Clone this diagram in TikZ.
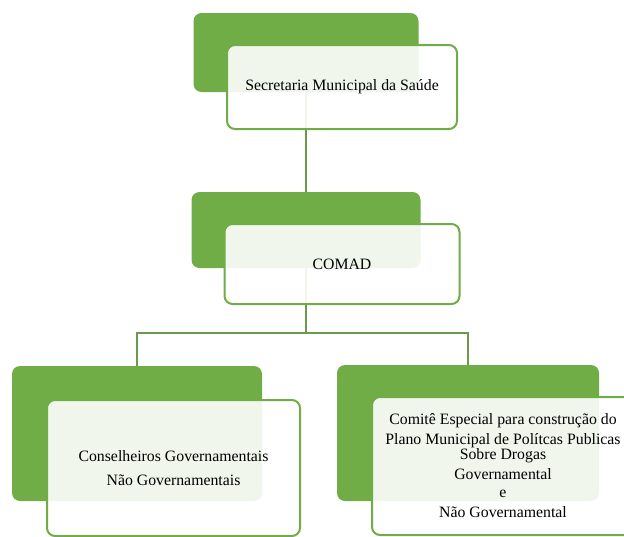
\documentclass[tikz,border=0pt]{standalone}
\usepackage{fontspec}
\setmainfont{Liberation Serif}
\definecolor{boxgreen}{HTML}{70AD47}
\definecolor{linegreen}{HTML}{6B9A4A}
\tikzset{
  backbox/.style={rectangle, rounded corners=8pt, fill=boxgreen, inner sep=0pt},
  frontbox/.style={rectangle, rounded corners=8pt, draw=boxgreen, line width=2pt,
    fill=white, fill opacity=0.9, text opacity=1, inner sep=0pt, align=center,
    font=\fontsize{15.8}{19}\selectfont},
  link/.style={draw=linegreen, line width=2pt}
}

\begin{document}
\begin{tikzpicture}[x=1pt,y=-1pt]
        % Organograma
        \useasboundingbox (0,0) rectangle (624,536);
        \clip (0,0) rectangle (624,536);
        \node[backbox, minimum width=225pt, minimum height=79pt] (topback) at (306,52.5) {};
        \node[backbox, minimum width=229pt, minimum height=76pt] (midback) at (306,230) {};
        \node[backbox, minimum width=250pt, minimum height=135pt] (leftback) at (137,433.5) {};
        \node[backbox, minimum width=262pt, minimum height=136pt] (rightback) at (468,433) {};
        \coordinate (split) at (306,333);
        \draw[link] (topback.south) -- (midback.north);
        \draw[link] (midback.south) -- (split) -| (leftback.north);
        \draw[link] (split) -| (rightback.north);
        \node[frontbox, minimum width=230pt, minimum height=84pt] (topfront) at (342,87) {Secretaria Municipal da Saúde};
        \node[frontbox, minimum width=235pt, minimum height=80pt] (midfront) at (342,264) {COMAD};
        \node[frontbox, minimum width=253pt, minimum height=136pt] (leftfront) at (173.5,468)
          {Conselheiros Governamentais\\[5pt] Não Governamentais};
        \node[frontbox, minimum width=262pt, minimum height=138pt, font=\fontsize{15.8}{15}\selectfont] (rightfront) at (503,466)
          {Comitê Especial para construção do\\[5pt] Plano Municipal de Polítcas Publicas\\ Sobre Drogas\\[5pt]
           Governamental\\[3pt] e\\[5pt] Não Governamental};
    \end{tikzpicture}
\end{document}
